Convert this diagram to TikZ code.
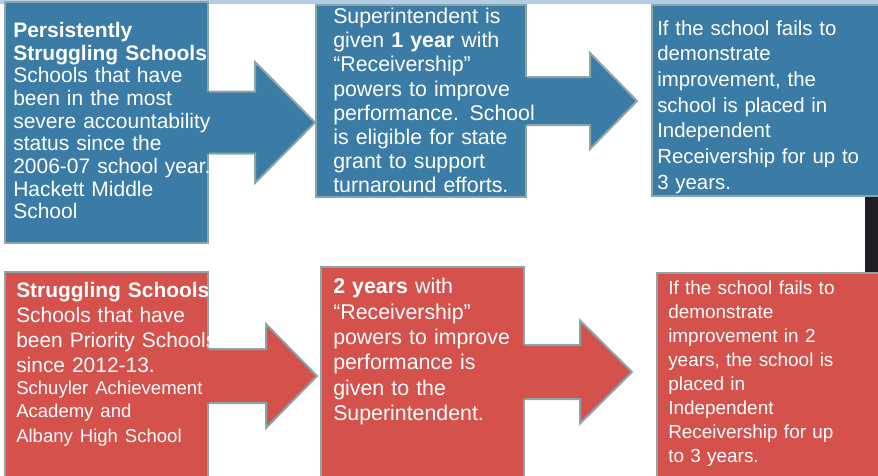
\documentclass[tikz,border=0pt]{standalone}
\usepackage{fontspec}
\setmainfont{Liberation Sans}
\usetikzlibrary{calc}
\definecolor{boxblue}{HTML}{3B7CA7}
\definecolor{boxred}{HTML}{D5514B}
\definecolor{rimgray}{HTML}{8CA6A8}
\definecolor{stripblue}{HTML}{B3CDE6}
\definecolor{darkbar}{HTML}{202024}
\newcommand{\pxu}{0.75pt}
\newcommand{\fsize}[2]{\fontsize{#1}{#2}\selectfont}
% block arrow: fill, from, to, gap, half shaft, half head, head length
\newcommand{\blockarrow}[7]{%
	\coordinate (tip) at ($(#2.east -| #3.west)+(-#4,0)$);
	\fill[#1] ($(#2.east)+(-2,-#5)$) -- ($(tip)+(-#7,-#5)$) -- ($(tip)+(-#7,-#6)$) -- (tip)
		-- ($(tip)+(-#7,#6)$) -- ($(tip)+(-#7,#5)$) -- ($(#2.east)+(-2,#5)$) -- cycle;
	\draw[rim] ($(#2.east)+(0,-#5)$) -- ($(tip)+(-#7,-#5)$) -- ($(tip)+(-#7,-#6)$) -- (tip)
		-- ($(tip)+(-#7,#6)$) -- ($(tip)+(-#7,#5)$) -- ($(#2.east)+(0,#5)$);
}

\begin{document}
\begin{tikzpicture}[x=\pxu,y=-\pxu,
		rim/.style={draw=rimgray,line width=1.5pt,line join=miter},
		txt/.style={text=white,anchor=north west,inner sep=0pt,align=left,text width=260*\pxu}]
	\useasboundingbox (0,0) rectangle (878,475);
	\clip (0,0) rectangle (878,475);

	% screenshot edges
	\fill[stripblue] (0,0) rectangle (878,4);
	\fill[darkbar] (865,190) rectangle (878,278);

	\begin{scope}[every node/.style={rectangle,rim,inner sep=0pt}]
		\node[fill=boxblue,minimum width=203*\pxu,minimum height=241*\pxu] (box_1) at (106.5,122.5) {};
		\node[fill=boxblue,minimum width=210*\pxu,minimum height=192*\pxu] (box_2) at (421,101) {};
		\node[fill=boxblue,minimum width=253*\pxu,minimum height=191*\pxu] (box_3) at (778.5,100.5) {};

		\node[fill=boxred,minimum width=203*\pxu,minimum height=208*\pxu] (box_4) at (106.5,376) {};
		\node[fill=boxred,minimum width=203*\pxu,minimum height=210*\pxu] (box_5) at (422.5,372) {};
		\node[fill=boxred,minimum width=248*\pxu,minimum height=217*\pxu] (box_6) at (781,381.5) {};
	\end{scope}

	\blockarrow{boxblue}{box_1}{box_2}{0}{31}{60.5}{60}
	\blockarrow{boxblue}{box_2}{box_3}{14}{24}{48}{47}
	\blockarrow{boxred}{box_4}{box_5}{3}{27}{52}{51}
	\blockarrow{boxred}{box_5}{box_6}{24}{27}{51.5}{52}

	\begin{scope}[every node/.style={txt}]
		\node[font=\fsize{15.75}{17}] (txt_1) at (13,22)
			{\textbf{Persistently}\\ \textbf{Struggling Schools}\\ Schools that have\\ been in the most\\
			 severe accountability\\ status since the\\ 2006-07 school year.\\ Hackett Middle\\ School};
		\node[font=\fsize{16}{18.1}] (txt_2) at (333,8)
			{Superintendent is\\ given \textbf{1 year} with\\ “Receivership”\\ powers to improve\\
			 performance. School\\ is eligible for state\\ grant to support\\ turnaround efforts.};
		\node[font=\fsize{15.3}{19.3}] (txt_3) at (657,20)
			{If the school fails to\\ demonstrate\\ improvement, the\\ school is placed in\\
			 Independent\\ Receivership for up to\\ 3 years.};

		\node[font=\fsize{15.7}{18.75}] (txt_4) at (16,282)
			{\textbf{Struggling Schools}\\ Schools that have\\ been Priority Schools\\ since 2012-13.\par
			 \fsize{13.9}{16.9}Schuyler Achievement\\ Academy and\\ Albany High School};
		\node[font=\fsize{16}{19.05}] (txt_5) at (333,278)
			{\textbf{2 years} with\\ “Receivership”\\ powers to improve\\ performance is\\
			 given to the\\ Superintendent.};
		\node[font=\fsize{14.2}{17.9}] (txt_6) at (668,281)
			{If the school fails to\\ demonstrate\\ improvement in 2\\ years, the school is\\
			 placed in\\ Independent\\ Receivership for up\\ to 3 years.};
	\end{scope}
\end{tikzpicture}
\end{document}
